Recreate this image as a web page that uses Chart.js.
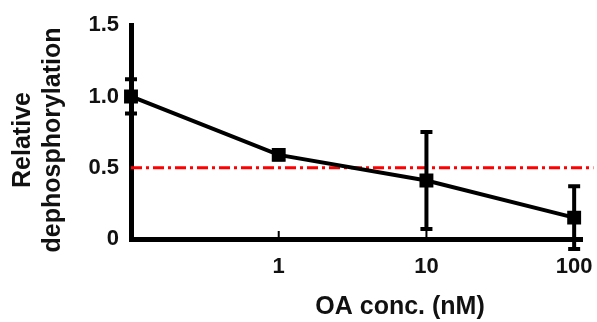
<!DOCTYPE html>
<html lang="en">
<head>
<meta charset="UTF-8">
<title>OA dephosphorylation</title>
<style>
  body { margin: 0; background: #fff; }
  #chart { display: block; }
</style>
</head>
<body>
<canvas id="chart" width="597" height="322"></canvas>
<script src="https://cdn.jsdelivr.net/npm/chart.js"></script>
<script>
// data
const concs = [0.1, 1, 10, 100];
const dephos = [1.0, 0.59, 0.41, 0.15];
const errs = [0.12, 0.03, 0.34, 0.22];
const xTicks = [1, 10, 100];
const cutoff = 0.5;
const cutoffRange = [0.1, 135];
const xTitle = 'OA conc. (nM)';
const yTitle = ['Relative', 'dephosphorylation'];

const textColor = '#111';

// error bars, small inward x ticks and axis titles
const extras = {
  id: 'extras',
  afterDatasetsDraw(chart) {
    const ctx = chart.ctx;
    const x = chart.scales.x, y = chart.scales.y;
    ctx.save();
    ctx.strokeStyle = '#000';
    ctx.lineWidth = 4;
    concs.forEach((c, i) => {
      const px = x.getPixelForValue(c);
      const top = y.getPixelForValue(dephos[i] + errs[i]);
      const bot = y.getPixelForValue(dephos[i] - errs[i]);
      ctx.beginPath();
      ctx.moveTo(px, top); ctx.lineTo(px, bot);
      ctx.moveTo(px - 6, top); ctx.lineTo(px + 6, top);
      ctx.moveTo(px - 6, bot); ctx.lineTo(px + 6, bot);
      ctx.stroke();
    });
    ctx.lineWidth = 2;
    xTicks.forEach(t => {
      const px = x.getPixelForValue(t);
      ctx.beginPath();
      ctx.moveTo(px, y.bottom); ctx.lineTo(px, y.bottom - 8);
      ctx.stroke();
    });
    ctx.fillStyle = textColor;
    ctx.font = 'bold 25px "Liberation Sans", Arial, sans-serif';
    ctx.textAlign = 'center';
    ctx.textBaseline = 'middle';
    ctx.fillText(xTitle, 400, 307);
    ctx.translate(38, 140);
    ctx.rotate(-Math.PI / 2);
    ctx.fillText(yTitle[0], 0, -15);
    ctx.fillText(yTitle[1], 0, 15);
    ctx.restore();
  }
};

new Chart(document.getElementById('chart'), {
  type: 'line',
  data: {
    datasets: [{
      data: concs.map((c, i) => ({ x: c, y: dephos[i] })),
      borderColor: '#000',
      backgroundColor: '#000',
      borderWidth: 4,
      pointStyle: 'rect',
      pointRadius: 7,
      clip: false
    }, {
      data: cutoffRange.map(c => ({ x: c, y: cutoff })),
      borderColor: '#ff0000',
      borderWidth: 3,
      borderDash: [11, 4, 3, 4],
      pointRadius: 0,
      clip: false
    }]
  },
  options: {
    responsive: false,
    animation: false,
    layout: { padding: { top: 22, right: 15, left: 0, bottom: 0 } },
    plugins: { legend: { display: false }, tooltip: { enabled: false } },
    scales: {
      x: {
        type: 'logarithmic',
        min: 0.1,
        max: 113,
        afterBuildTicks: axis => { axis.ticks = xTicks.map(v => ({ value: v })); },
        afterFit: scale => { scale.height = 83; scale.paddingRight = 0; scale.paddingLeft = 0; },
        grid: { display: false, drawTicks: false },
        border: { color: '#000', width: 5 },
        ticks: {
          color: textColor,
          padding: 15,
          maxRotation: 0,
          font: { family: '"Liberation Sans", Arial', size: 22, weight: 'bold' },
          callback: v => String(v)
        }
      },
      y: {
        min: 0,
        max: 1.5,
        afterFit: scale => { scale.width = 131; },
        grid: { display: false, drawTicks: false },
        border: { color: '#000', width: 5 },
        ticks: {
          stepSize: 0.5,
          color: textColor,
          padding: 12,
          font: { family: '"Liberation Sans", Arial', size: 22, weight: 'bold' },
          callback: v => v === 0 ? '0' : v.toFixed(1)
        }
      }
    }
  },
  plugins: [extras]
});
</script>
</body>
</html>
